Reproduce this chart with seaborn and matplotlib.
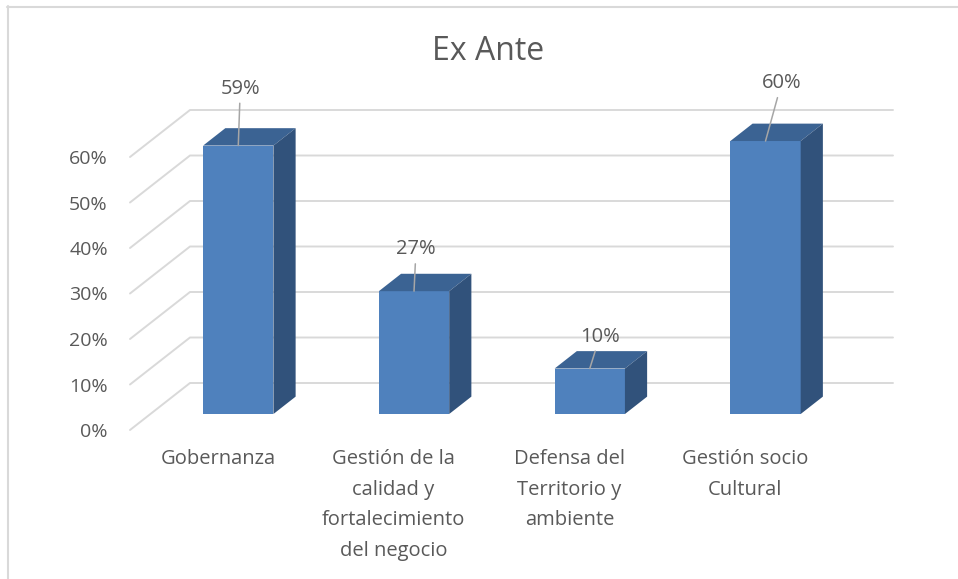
import pandas as pd
import seaborn as sns
import matplotlib.pyplot as plt
from matplotlib.patches import Polygon
from matplotlib.lines import Line2D

# Chart data
categories = ["Gobernanza",
              "Gestión de la\ncalidad y\nfortalecimiento\ndel negocio",
              "Defensa del\nTerritorio y\nambiente",
              "Gestión socio\nCultural"]
values = [59, 27, 10, 60]
value_labels = ["59%", "27%", "10%", "60%"]
y_ticks = [0, 10, 20, 30, 40, 50, 60]
y_tick_labels = ["0%", "10%", "20%", "30%", "40%", "50%", "60%"]
title = "Ex Ante"

# label offsets (pixels) from the front top edge of each bar
label_offsets = [(2, 57), (2, 42), (10, 32), (16, 58)]

df = pd.DataFrame({"cat": categories, "val": values})

sns.set_theme(style="white")
plt.rcParams['font.family'] = ['Open Sans', 'DejaVu Sans']
text_color = '#595959'
grid_color = '#D9D9D9'

W, H = 958, 579
fig = plt.figure(figsize=(W / 100, H / 100), dpi=100)
fig.patch.set_facecolor('white')

# plot area: front plane 130..833 px, back wall shifted by (60, -47) px
left_px, right_px, bottom_px, top_px = 130, 893, 430, 110
ax = fig.add_axes([left_px / W, 1 - bottom_px / H,
                   (right_px - left_px) / W, (bottom_px - top_px) / H])

n = len(categories)
cat_px = (right_px - 60 - left_px) / n
DX = 60 / cat_px            # full depth offset in category units
DY = 47 / ((bottom_px - top_px - 47) / 60)  # full depth offset in value units
d0, d1 = 0.34, 0.71         # depth range of the columns

# front faces of the columns
sns.barplot(data=df, x="cat", y="val", color='#4F81BD', width=0.4,
            saturation=1, ax=ax, zorder=3, linewidth=0)

ax.set_xlim(-0.5, n - 0.5 + DX)
ax.set_ylim(0, 60 + DY)

# walls and gridlines
for v in y_ticks:
    ax.plot([-0.5, -0.5 + DX, n - 0.5 + DX], [v, v + DY, v + DY],
            color=grid_color, lw=1.4, zorder=0, clip_on=False)

bdx = (d1 - d0) * DX
bdy = (d1 - d0) * DY
for i, p in enumerate(ax.patches):
    x0 = p.get_x() + d0 * DX
    base = d0 * DY
    h = values[i]
    w = p.get_width()
    p.set_x(x0)
    p.set_y(base)
    p.set_height(h)
    top = base + h
    x1 = x0 + w
    ax.add_patch(Polygon([(x0, top), (x1, top), (x1 + bdx, top + bdy), (x0 + bdx, top + bdy)],
                         closed=True, facecolor='#3B6393', edgecolor='none', zorder=4))
    ax.add_patch(Polygon([(x1, base), (x1 + bdx, base + bdy), (x1 + bdx, top + bdy), (x1, top)],
                         closed=True, facecolor='#31527B', edgecolor='none', zorder=4))
    ox, oy = label_offsets[i]
    ax.annotate(value_labels[i], xy=(x0 + w / 2, top), xytext=(ox, oy),
                textcoords='offset pixels', ha='center', va='center',
                fontsize=14.5, color=text_color, zorder=5,
                arrowprops=dict(arrowstyle='-', color='#A6A6A6', lw=1.1,
                                shrinkA=1, shrinkB=0))

ax.set_yticks(y_ticks)
ax.set_yticklabels(y_tick_labels)
ax.set_xlabel("")
ax.set_ylabel("")
ax.tick_params(axis='y', length=0, pad=16, labelsize=14, labelcolor=text_color)
ax.tick_params(axis='x', length=0, pad=14, labelsize=14.5, labelcolor=text_color)
for lab in ax.get_xticklabels():
    lab.set_linespacing(1.7)
    lab.set_verticalalignment('top')
for s in ax.spines.values():
    s.set_visible(False)
ax.set_facecolor('none')

fig.text(488 / W, 1 - 51 / H, title, ha='center', va='center',
         fontsize=23, color=text_color)

# chart frame (left and top edges visible)
fig.add_artist(Line2D([7.5 / W, 7.5 / W], [0, 1 - 6 / H], color=grid_color, lw=1.5))
fig.add_artist(Line2D([7 / W, 1], [1 - 6.5 / H, 1 - 6.5 / H], color=grid_color, lw=1.5))

fig.savefig("out.png", dpi=100, facecolor='white')
